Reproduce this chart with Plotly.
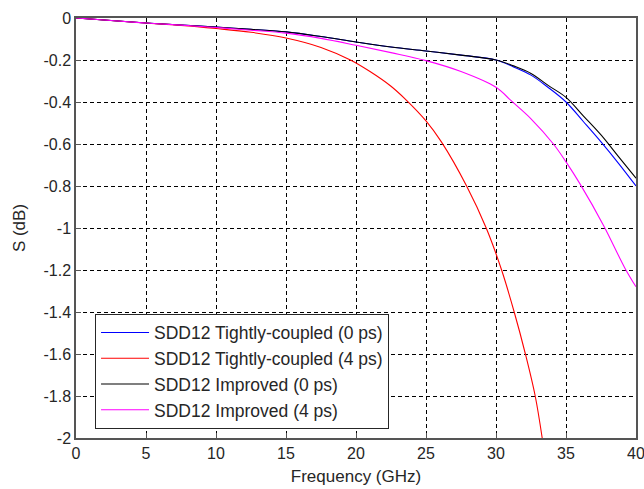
import plotly.graph_objects as go

# Frequency samples (GHz) and insertion loss (dB) for each configuration
tc0_freq = [0, 2.5, 5, 7.5, 10, 12.5, 15, 17.5, 20, 22.5, 25, 27.5, 30,
            31.25, 32.5, 33.75, 35, 36.25, 37.5, 38.75, 40]
tc0_s = [0, -0.012, -0.024, -0.033, -0.043, -0.054, -0.066, -0.088, -0.114,
         -0.138, -0.157, -0.177, -0.2, -0.233, -0.272, -0.332, -0.40, -0.494,
         -0.59, -0.692, -0.80]

tc4_freq = [0, 2.5, 5, 7.5, 10, 12.5, 15, 17.5, 19.6, 21, 22.5, 23.5, 25,
            26.1, 27.9, 29.3, 30.4, 31.3, 32.1, 32.8, 33.3]
tc4_s = [0, -0.012, -0.024, -0.035, -0.05, -0.068, -0.095, -0.14, -0.2,
         -0.255, -0.325, -0.385, -0.49, -0.59, -0.8, -1.0, -1.2, -1.4, -1.6,
         -1.8, -2.0]

imp0_freq = tc0_freq
imp0_s = [0, -0.012, -0.024, -0.033, -0.043, -0.054, -0.066, -0.088, -0.114,
          -0.138, -0.157, -0.177, -0.2, -0.228, -0.264, -0.322, -0.378,
          -0.467, -0.557, -0.66, -0.763]

imp4_freq = [0, 2.5, 5, 7.5, 10, 12.5, 15, 17.5, 20, 22.5, 25, 27.5, 30,
             31.1, 32.5, 34.1, 35, 36, 37.7, 39.2, 40]
imp4_s = [0, -0.012, -0.024, -0.034, -0.045, -0.058, -0.072, -0.097, -0.13,
          -0.165, -0.203, -0.255, -0.33, -0.395, -0.48, -0.6, -0.685, -0.79,
          -0.99, -1.19, -1.28]

series_names = ["SDD12 Tightly-coupled (0 ps)", "SDD12 Tightly-coupled (4 ps)",
                "SDD12 Improved (0 ps)", "SDD12 Improved (4 ps)"]
series_colors = ["#0000ff", "#ff0000", "#000000", "#ff00ff"]

x_ticks = [0, 5, 10, 15, 20, 25, 30, 35, 40]
y_ticks = [0, -0.2, -0.4, -0.6, -0.8, -1, -1.2, -1.4, -1.6, -1.8, -2]
y_ticklabels = ["0", "-0.2", "-0.4", "-0.6", "-0.8", "-1", "-1.2", "-1.4",
                "-1.6", "-1.8", "-2"]

fig = go.Figure()
for fx, sy, name, color in zip(
        [tc0_freq, tc4_freq, imp0_freq, imp4_freq],
        [tc0_s, tc4_s, imp0_s, imp4_s],
        series_names, series_colors):
    fig.add_trace(go.Scatter(
        x=fx, y=sy, mode="lines", name=name,
        line=dict(color=color, width=1.1, shape="spline", smoothing=1.0),
    ))

family = "Liberation Sans, Arial, sans-serif"
tick_font = dict(family=family, size=16, color="#262626")
title_font = dict(family=family, size=17, color="#262626")

fig.update_layout(
    width=644, height=489,
    margin=dict(l=76, r=8, t=18, b=51),
    paper_bgcolor="white", plot_bgcolor="white",
    font=tick_font,
    showlegend=True,
    legend=dict(
        x=0.034, y=0.296, xanchor="left", yanchor="top",
        bgcolor="white", bordercolor="#262626", borderwidth=1,
        font=dict(family=family, size=17.5, color="#262626"),
        itemwidth=48, tracegroupgap=0,
    ),
    xaxis=dict(
        range=[0, 40], tickvals=x_ticks, ticktext=[str(v) for v in x_ticks],
        showgrid=True, gridcolor="#000000", gridwidth=1, griddash="4px,3px",
        showline=True, linecolor="#555555", linewidth=1.5, mirror=True,
        ticks="inside", ticklen=5, tickcolor="#555555",
        zeroline=False, tickfont=tick_font, automargin=False,
        ticklabeloverflow="allow",
        title=dict(text="Frequency (GHz)", font=title_font, standoff=9),
    ),
    yaxis=dict(
        range=[-2, 0], tickvals=y_ticks, ticktext=y_ticklabels,
        showgrid=True, gridcolor="#000000", gridwidth=1, griddash="4px,3px",
        showline=True, linecolor="#555555", linewidth=1.5, mirror=True,
        ticks="inside", ticklen=5, tickcolor="#555555",
        zeroline=False, tickfont=tick_font, automargin=False,
        ticklabeloverflow="allow",
        title=dict(text="S (dB)", font=title_font, standoff=14),
    ),
)

fig.write_html("out.html")
